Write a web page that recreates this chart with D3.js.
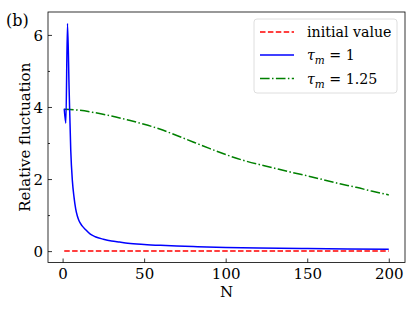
<!DOCTYPE html>
<html>
<head>
<meta charset="utf-8">
<script src="https://cdn.jsdelivr.net/npm/d3@7"></script>
<style>
  body { margin: 0; background: #fff; }
</style>
</head>
<body>
<div id="chart"></div>
<script>
// data
const nRed = [1, 200];
const redVals = [0, 0];

const nBlue = [1, 2, 3, 4, 5, 6, 7, 8, 9, 10, 12, 14, 17, 20, 25, 30, 35, 40, 50, 60, 70, 80, 100, 120, 150, 175, 200];
const blueVals = [3.95, 3.55, 6.32, 4.5, 2.8, 1.95, 1.5, 1.18, 0.98, 0.85, 0.7, 0.6, 0.47, 0.4, 0.33, 0.28, 0.25, 0.22, 0.185, 0.16, 0.14, 0.125, 0.1, 0.085, 0.07, 0.06, 0.05];

const nGreen = [1, 10, 20, 30, 40, 50, 60, 70, 80, 90, 100, 110, 120, 130, 140, 150, 160, 170, 180, 190, 200];
const greenVals = [3.94, 3.91, 3.84, 3.75, 3.64, 3.52, 3.38, 3.21, 3.03, 2.85, 2.68, 2.53, 2.41, 2.3, 2.19, 2.09, 1.98, 1.87, 1.77, 1.66, 1.56];

const xTicks = [0, 50, 100, 150, 200];
const yTicks = [0, 2, 4, 6];
const yMinorTicks = [1, 3, 5];

const legendLabels = ["initial value", "τm=1", "τm=1.25"];

const FONT = "DejaVu Serif";
const FS = 15;

// set the dimensions and margins of the graph
const W = 415, H = 311;
const margin = { top: 12, right: 10, bottom: 48.5, left: 48 };

const svg = d3
  .select("#chart")
  .append("svg")
  .attr("width", W)
  .attr("height", H)
  .style("font-family", FONT);

const x = d3.scaleLinear().domain([-8.95, 209.95]).range([margin.left, W - margin.right]);
const y = d3.scaleLinear().domain([-0.316, 6.636]).range([H - margin.bottom, margin.top]);

const line = d3.line()
  .x(d => x(d[0]))
  .y(d => y(d[1]));

// red dashed
svg.append("path")
  .datum(d3.zip(nRed, redVals))
  .attr("fill", "none")
  .attr("stroke", "#ff0000")
  .attr("stroke-width", 1.5)
  .attr("stroke-dasharray", "5.5,2.4")
  .attr("d", line);

// green dash-dot
svg.append("path")
  .datum(d3.zip(nGreen, greenVals))
  .attr("fill", "none")
  .attr("stroke", "#008000")
  .attr("stroke-width", 1.5)
  .attr("stroke-dasharray", "9.6,2.4,1.5,2.4")
  .attr("d", line.curve(d3.curveNatural));

// blue solid
svg.append("path")
  .datum(d3.zip(nBlue, blueVals))
  .attr("fill", "none")
  .attr("stroke", "#0000ff")
  .attr("stroke-width", 1.5)
  .attr("stroke-linejoin", "round")
  .attr("d", line.curve(d3.curveMonotoneX));

// axes, ticks pointing inward
const xAxis = svg.append("g")
  .attr("transform", `translate(0,${H - margin.bottom})`)
  .call(d3.axisBottom(x).tickValues(xTicks).tickFormat(d3.format("d")).tickSizeInner(-4).tickSizeOuter(0));
xAxis.select(".domain").remove();
xAxis.selectAll("text").attr("font-size", FS).attr("dy", "0").attr("y", 16.5);

const yAxis = svg.append("g")
  .attr("transform", `translate(${margin.left},0)`)
  .call(d3.axisLeft(y).tickValues(yTicks).tickFormat(d3.format("d")).tickSizeInner(-4).tickSizeOuter(0));
yAxis.select(".domain").remove();
yAxis.selectAll("text").attr("font-size", FS).attr("x", -5).attr("dy", "0.36em");

svg.append("g")
  .attr("transform", `translate(${margin.left},0)`)
  .call(d3.axisLeft(y).tickValues(yMinorTicks).tickSizeInner(-2).tickSizeOuter(0).tickFormat(""))
  .select(".domain").remove();

svg.selectAll(".tick line").attr("stroke", "#000").attr("stroke-width", 0.8);
svg.selectAll("g").attr("font-family", null).style("font-family", FONT);

// frame
svg.append("rect")
  .attr("x", margin.left)
  .attr("y", margin.top)
  .attr("width", W - margin.left - margin.right)
  .attr("height", H - margin.top - margin.bottom)
  .attr("fill", "none")
  .attr("stroke", "#000")
  .attr("stroke-width", 0.8);

// axis titles
svg.append("text")
  .attr("x", (margin.left + W - margin.right) / 2)
  .attr("y", 297)
  .attr("text-anchor", "middle")
  .attr("font-size", FS)
  .text("N");

svg.append("text")
  .attr("transform", `translate(30,${(margin.top + H - margin.bottom) / 2}) rotate(-90)`)
  .attr("text-anchor", "middle")
  .attr("font-size", FS)
  .text("Relative fluctuation");

svg.append("text")
  .attr("x", 6)
  .attr("y", 26)
  .attr("font-size", 16)
  .text("(b)");

// legend
const legend = svg.append("g");
legend.append("rect")
  .attr("x", 254)
  .attr("y", 19)
  .attr("width", 143)
  .attr("height", 74)
  .attr("rx", 3)
  .attr("fill", "#fff")
  .attr("fill-opacity", 0.8)
  .attr("stroke", "#d6d6d6")
  .attr("stroke-width", 0.8);

const legendStyles = [
  { color: "#ff0000", dash: "5.5,2.4" },
  { color: "#0000ff", dash: null },
  { color: "#008000", dash: "9.6,2.4,1.5,2.4" }
];
const rowY = [32, 55, 78.5];

legendLabels.forEach(function (label, i) {
  legend.append("line")
    .attr("x1", 260).attr("x2", 294)
    .attr("y1", rowY[i]).attr("y2", rowY[i])
    .attr("stroke", legendStyles[i].color)
    .attr("stroke-width", 1.5)
    .attr("stroke-dasharray", legendStyles[i].dash);

  const t = legend.append("text")
    .attr("x", 307)
    .attr("y", rowY[i] + 5)
    .attr("font-size", 14.2);
  if (i === 0) {
    t.text(label);
  } else {
    const val = label.split("=")[1];
    t.append("tspan").attr("font-style", "italic").text("τ");
    t.append("tspan").attr("font-style", "italic").attr("font-size", 10.5).attr("dy", 4).text("m");
    t.append("tspan").attr("dy", -4).text(" = " + val);
  }
});
</script>
</body>
</html>
